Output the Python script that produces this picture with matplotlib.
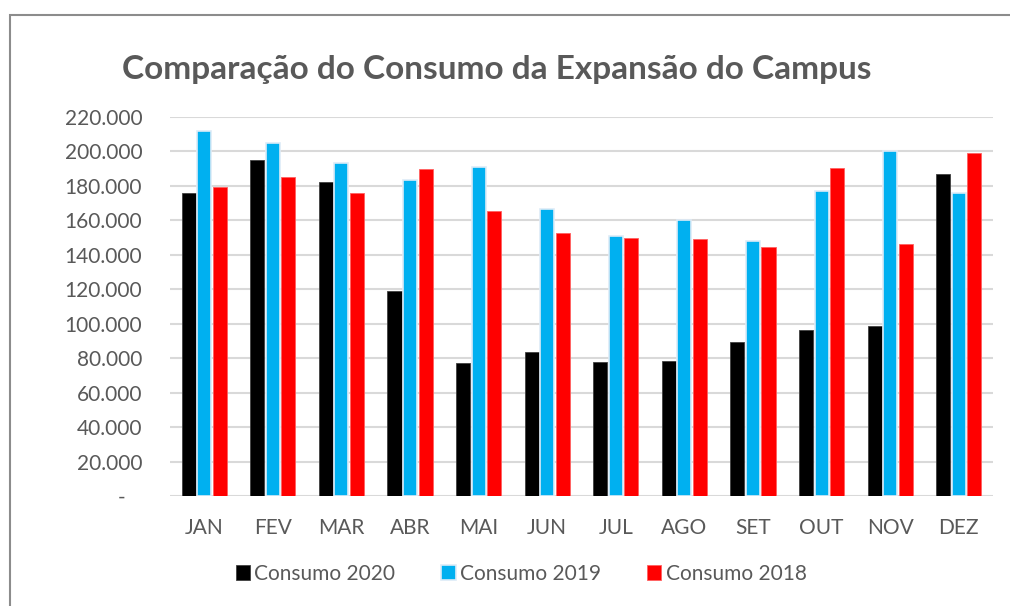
import matplotlib.pyplot as plt
import numpy as np
from matplotlib.patches import Rectangle
from matplotlib.ticker import FuncFormatter

meses = ['JAN', 'FEV', 'MAR', 'ABR', 'MAI', 'JUN', 'JUL', 'AGO', 'SET', 'OUT', 'NOV', 'DEZ']
consumo_2020 = [176000, 195000, 182000, 119000, 77000, 83600, 77600, 78400, 89600, 96400, 98500, 187000]
consumo_2019 = [212000, 205000, 193500, 183300, 190800, 166400, 151100, 160000, 148000, 177000, 200000, 176000]
consumo_2018 = [179600, 185000, 176000, 189700, 165400, 152700, 149600, 149000, 144500, 190200, 146500, 199000]

plt.rcParams['font.family'] = ['Lato', 'DejaVu Sans']
cinza = '#595959'

fig = plt.figure(figsize=(10.1, 6.06), dpi=100)
ax = fig.add_axes([170 / 1010, 110 / 606, 823 / 1010, 379 / 606])

x = np.arange(len(meses))
w = 0.205
d = 0.227
ax.bar(x - d, consumo_2020, w, color='black', edgecolor='#404040', linewidth=0.6, label='Consumo 2020', zorder=3)
ax.bar(x, consumo_2019, w, color='#00B0F0', edgecolor='#DDEBF7', linewidth=1.2, label='Consumo 2019', zorder=3)
ax.bar(x + d, consumo_2018, w, color='#FF0000', edgecolor='#FF6060', linewidth=0.6, label='Consumo 2018', zorder=3)

ax.set_xlim(-0.5, len(meses) - 0.5)
ax.set_ylim(0, 220000)
ax.set_yticks(np.arange(0, 220001, 20000))
ax.yaxis.set_major_formatter(FuncFormatter(
    lambda v, p: '-   ' if v == 0 else f'{int(v):,}'.replace(',', '.')))
ax.set_xticks(x)
ax.set_xticklabels(meses)
ax.tick_params(axis='y', length=0, pad=20, labelsize=15, labelcolor=cinza)
ax.tick_params(axis='x', length=0, pad=16, labelsize=15, labelcolor=cinza)
ax.grid(axis='y', color='#D9D9D9', linewidth=1.5, zorder=0)
for s in ax.spines.values():
    s.set_visible(False)

fig.text(497 / 1010, 1 - 69 / 606, 'Comparação do Consumo da Expansão do Campus',
         ha='center', va='center', fontsize=24, fontweight='bold', color=cinza)

leg = fig.legend(loc='center', bbox_to_anchor=(521 / 1010, 1 - 574 / 606), ncol=3,
                 frameon=False, fontsize=15, handlelength=0.7, handleheight=0.7,
                 handletextpad=0.2, columnspacing=2.2)
for t in leg.get_texts():
    t.set_color(cinza)

fig.patches.append(Rectangle((9.5 / 1010, -0.1), 1.2, 1.1 - 15 / 606, transform=fig.transFigure,
                             fill=False, edgecolor='#8C8C8C', linewidth=1.5))

fig.savefig('out.png', dpi=100)
